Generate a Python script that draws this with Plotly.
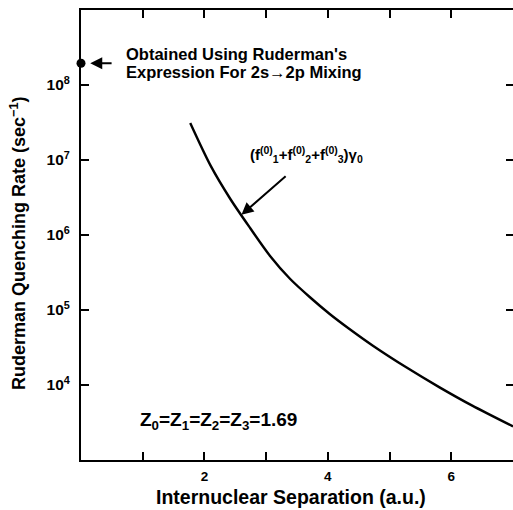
import plotly.graph_objects as go

# Curve data
sep = [1.77, 2.1, 2.42, 2.74, 3.06, 3.39, 3.71, 4.03, 4.35, 4.73, 5.27, 5.81, 6.34, 7.0]
rate = [3.11e7, 8.4e6, 3.02e6, 1.24e6, 5.3e5, 2.59e5, 1.48e5, 8.85e4, 5.58e4, 3.34e4,
        1.72e4, 9.3e3, 5.3e3, 2.8e3]

# Ruderman point
rud_x = [0.0]
rud_y = [1.95e8]

x_tickvals = [1, 2, 3, 4, 5, 6]
x_ticktext = ["", "2", "", "4", "", "6"]
y_tickvals = [1e4, 1e5, 1e6, 1e7, 1e8]
y_ticktext = ["10<sup>4</sup>", "10<sup>5</sup>", "10<sup>6</sup>", "10<sup>7</sup>", "10<sup>8</sup>"]

FONT = "Liberation Sans, Arial, sans-serif"

fig = go.Figure()
fig.add_trace(go.Scatter(x=sep, y=rate, mode="lines",
                         line=dict(color="black", width=2.4, shape="spline", smoothing=0.8),
                         showlegend=False, hoverinfo="skip"))
fig.add_trace(go.Scatter(x=rud_x, y=rud_y, mode="markers", marker=dict(color="black", size=9),
                         cliponaxis=False, showlegend=False, hoverinfo="skip"))
# invisible trace for right-side tick axis
fig.add_trace(go.Scatter(x=[None], y=[None], yaxis="y2", showlegend=False, hoverinfo="skip"))

fig.update_layout(
    width=513, height=510,
    margin=dict(l=81, r=0, t=10, b=50),
    plot_bgcolor="white", paper_bgcolor="white",
    font=dict(family=FONT, color="black", size=14, weight="bold"),
    xaxis=dict(range=[0, 7], tickvals=x_tickvals, ticktext=x_ticktext, ticks="inside", ticklen=8,
               tickwidth=2, tickcolor="black", showline=True, linecolor="black", linewidth=2,
               mirror="ticks", showgrid=False, zeroline=False, ticklabelstandoff=3,
               tickfont=dict(family=FONT, size=13.5, weight="bold")),
    yaxis=dict(type="log", range=[3, 9], tickvals=y_tickvals, ticktext=y_ticktext, ticks="inside",
               ticklen=8, tickwidth=2, tickcolor="black", showline=True, linecolor="black", linewidth=2,
               showgrid=False, zeroline=False, ticklabelstandoff=6,
               tickfont=dict(family=FONT, size=15.5, weight="bold")),
    yaxis2=dict(type="log", range=[3, 9], overlaying="y", side="right", tickvals=y_tickvals,
                ticks="inside", ticklen=7, tickwidth=2, tickcolor="black", showticklabels=False,
                showline=False, showgrid=False, zeroline=False),
)

# axis titles
fig.add_annotation(x=0.487, y=-0.082, xref="paper", yref="paper", xanchor="center", yanchor="middle",
                   text="Internuclear Separation (a.u.)", showarrow=False,
                   font=dict(family=FONT, size=19.5, weight="bold"))
fig.add_annotation(x=-0.146, y=0.482, xref="paper", yref="paper", xanchor="center", yanchor="middle",
                   text="Ruderman Quenching Rate (sec<sup>−1</sup>)", showarrow=False, textangle=-90,
                   font=dict(family=FONT, size=18, weight="bold"))

fig.add_annotation(x=0.69, y=8.41, xref="x", yref="y", xanchor="left", yanchor="middle", align="left",
                   text="Obtained Using Ruderman's", showarrow=False,
                   font=dict(family=FONT, size=16.5, weight="bold"))
fig.add_annotation(x=0.69, y=8.17, xref="x", yref="y", xanchor="left", yanchor="middle", align="left",
                   text="Expression For 2s→2p Mixing", showarrow=False,
                   font=dict(family=FONT, size=16.5, weight="bold"))
fig.add_annotation(x=0.15, y=8.29, xref="x", yref="y", ax=0.52, ay=8.29, axref="x", ayref="y",
                   text="", showarrow=True, arrowhead=2, arrowsize=1.2, arrowwidth=2, arrowcolor="black")

fig.add_annotation(x=3.66, y=7.08, xref="x", yref="y", xanchor="center", yanchor="middle",
                   text="(f<sup>(0)</sup><sub>1</sub>+f<sup>(0)</sup><sub>2</sub>+f<sup>(0)</sup><sub>3</sub>)γ<sub>0</sub>",
                   showarrow=False, font=dict(family=FONT, size=15, weight="bold"))
fig.add_annotation(x=2.6, y=6.27, xref="x", yref="y", ax=3.34, ay=6.8, axref="x", ayref="y",
                   text="", showarrow=True, arrowhead=2, arrowsize=1.2, arrowwidth=2, arrowcolor="black")

fig.add_annotation(x=0.92, y=3.52, xref="x", yref="y", xanchor="left", yanchor="middle",
                   text="Z<sub>0</sub>=Z<sub>1</sub>=Z<sub>2</sub>=Z<sub>3</sub>=1.69",
                   showarrow=False, font=dict(family=FONT, size=19, weight="bold"))

fig.write_html("out.html")
